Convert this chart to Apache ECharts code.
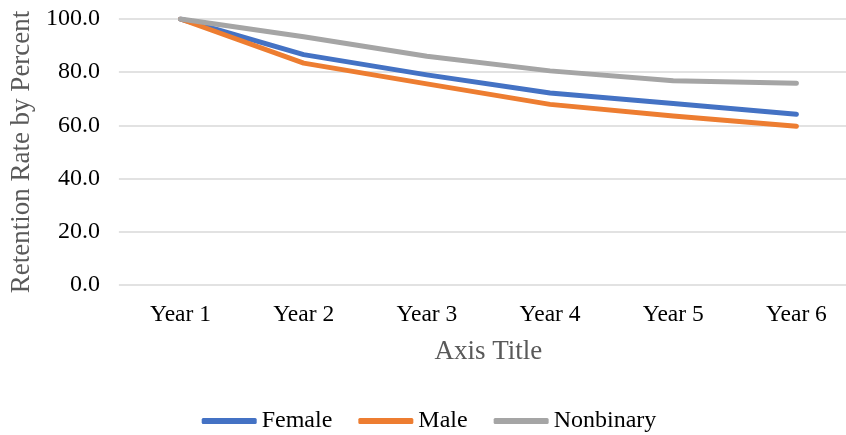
<!DOCTYPE html>
<html><head><meta charset="utf-8">
<script src="https://cdn.jsdelivr.net/npm/echarts@6/dist/echarts.min.js"></script>
<style>html,body{margin:0;padding:0;background:#fff;overflow:hidden;width:846px;height:435px}#c{width:858px;height:435px}</style>
</head><body><div id="c"></div>
<script>
var categories = ['Year 1','Year 2','Year 3','Year 4','Year 5','Year 6'];
var female = [100, 86.6, 79.0, 72.2, 68.2, 64.2];
var male = [100, 83.4, 75.6, 67.9, 63.5, 59.7];
var nonbinary = [100, 93.3, 86.0, 80.5, 76.8, 75.8];
var yTicks = [0, 20, 40, 60, 80, 100];

var font = '"Liberation Serif","Times New Roman",serif';
var chart = echarts.init(document.getElementById('c'));
function ser(name, data, color){
  return {name:name, type:'line', data:data, symbol:'none', smooth:false,
    lineStyle:{width:5, color:color, cap:'round', join:'round'}, itemStyle:{color:color}};
}
chart.setOption({
  animation:false,
  grid:{left:116, right:0, top:19, bottom:150},
  legend:{top:404, left:'center', itemWidth:55, itemHeight:6, itemGap:26, icon:'roundRect',
    textStyle:{fontFamily:font, fontSize:24, color:'#000'},
    data:['Female','Male','Nonbinary']},
  xAxis:{type:'category', data:categories, boundaryGap:true,
    name:'Axis Title', nameLocation:'middle', nameGap:53,
    nameTextStyle:{fontFamily:font, fontSize:27, color:'#595959'},
    axisLine:{show:false}, axisTick:{show:false},
    axisLabel:{fontFamily:font, fontSize:23.5, color:'#000', margin:18}},
  yAxis:{type:'value', min:yTicks[0], max:yTicks[yTicks.length-1], interval:20,
    name:'Retention Rate by Percent', nameLocation:'middle', nameGap:82,
    nameTextStyle:{fontFamily:font, fontSize:27, color:'#595959'},
    axisLine:{show:false}, axisTick:{show:false},
    axisLabel:{fontFamily:font, fontSize:24, color:'#000', margin:19,
      formatter:function(v){return v.toFixed(1);}},
    splitLine:{lineStyle:{color:'#D9D9D9', width:1.5}}},
  series:[ser('Female', female, '#4472C4'), ser('Male', male, '#ED7D31'), ser('Nonbinary', nonbinary, '#A5A5A5')]
});
</script></body></html>
